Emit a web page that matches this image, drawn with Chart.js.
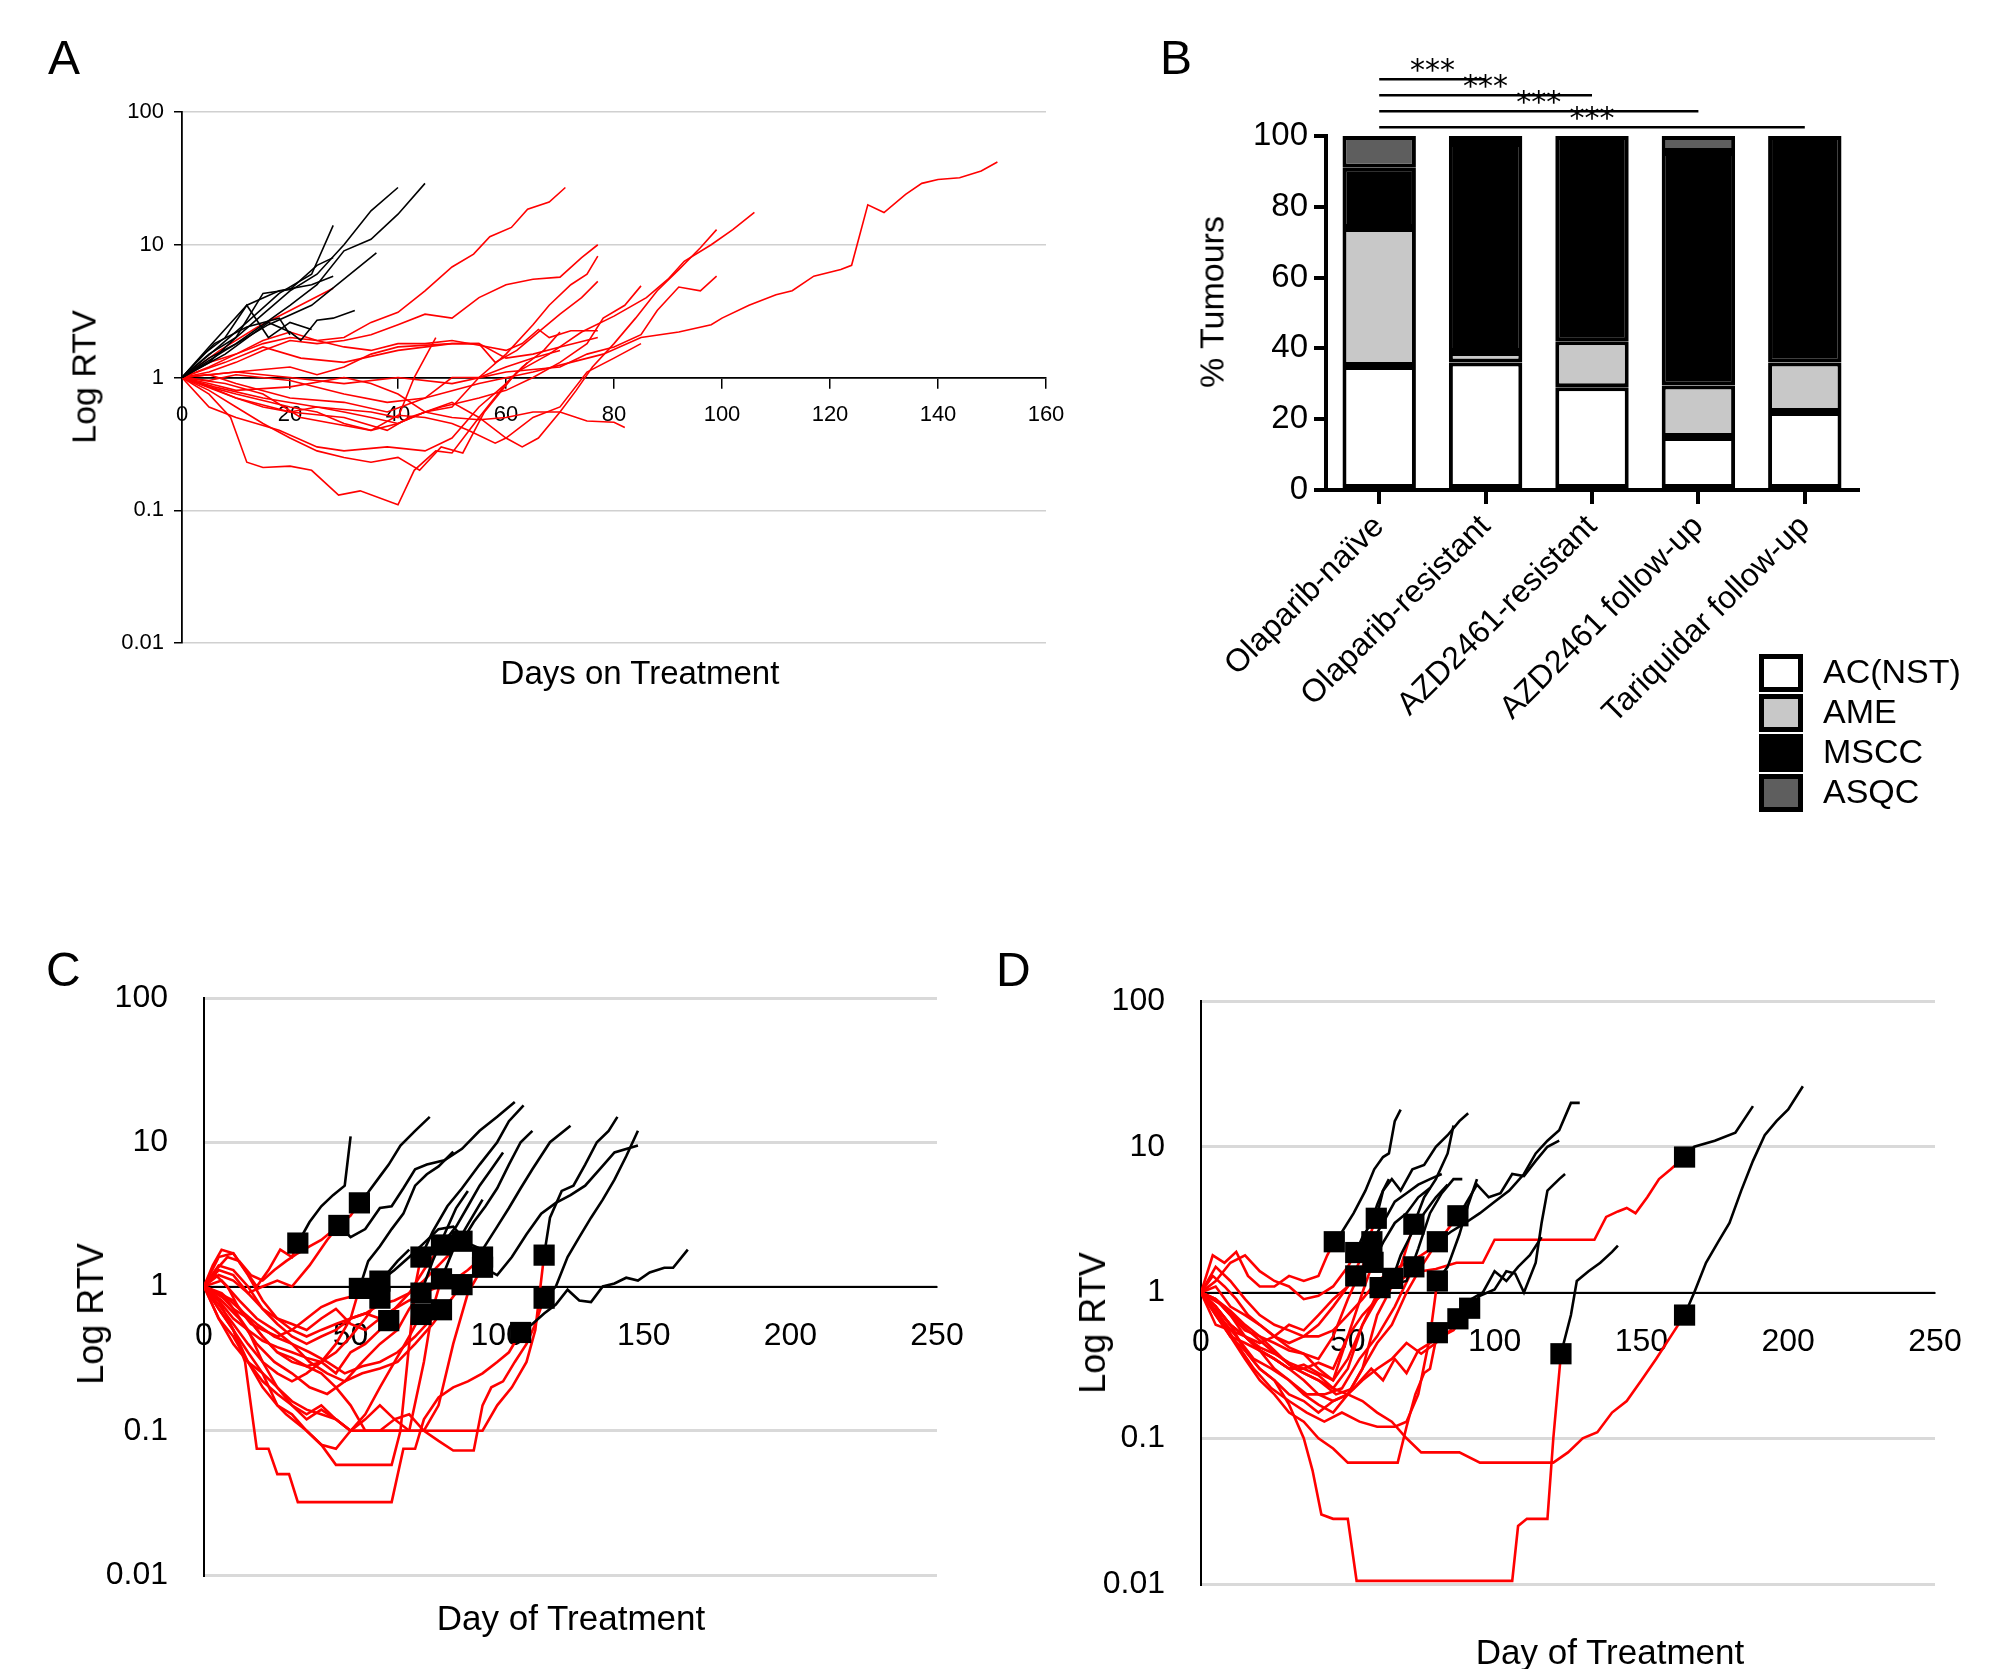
<!DOCTYPE html>
<html><head><meta charset="utf-8">
<script src="https://cdn.jsdelivr.net/npm/chart.js@4/dist/chart.umd.min.js"></script>
<style>
html,body{margin:0;padding:0;background:#fff;}
body{width:2000px;height:1669px;position:relative;overflow:hidden;font-family:'Liberation Sans',Arial,sans-serif;}
canvas{position:absolute;left:0;top:0;}
.t{position:absolute;white-space:nowrap;color:#000;}
.v{transform:translate(-50%,-50%) rotate(-90deg);}
.h{transform:translate(-50%,-50%);}
.lg{position:absolute;left:1759px;width:34px;height:28px;border:5px solid #000;}
</style></head><body>
<canvas id="cA" width="2000" height="1669"></canvas>
<canvas id="cB" width="2000" height="1669"></canvas>
<canvas id="cC" width="2000" height="1669"></canvas>
<canvas id="cD" width="2000" height="1669"></canvas>

<div class="t" style="left:48px;top:30px;font-size:48px;">A</div>
<div class="t" style="left:1160px;top:30px;font-size:48px;">B</div>
<div class="t" style="left:46px;top:942px;font-size:48px;">C</div>
<div class="t" style="left:996px;top:942px;font-size:48px;">D</div>
<div class="t v" style="left:84px;top:377px;font-size:34px;">Log RTV</div>
<div class="t h" style="left:640px;top:673px;font-size:33px;">Days on Treatment</div>
<div class="t v" style="left:1212px;top:302px;font-size:34px;">% Tumours</div>
<div class="t v" style="left:91px;top:1314px;font-size:36px;">Log RTV</div>
<div class="t h" style="left:571px;top:1618px;font-size:35px;">Day of Treatment</div>
<div class="t v" style="left:1093px;top:1323px;font-size:36px;">Log RTV</div>
<div class="t h" style="left:1610px;top:1652px;font-size:35px;">Day of Treatment</div>
<div id="legend"></div>

<script>
// ---------- Panel A data ----------
const A_xTicks = [0,20,40,60,80,100,120,140,160];
const A_black = [
 [[0,1],[5,1.5],[10,2],[15,3],[20,4.5],[25,6],[30,10],[35,18],[40,27]],
 [[0,1],[5,1.4],[10,1.8],[15,2.5],[20,3.5],[25,5],[30,9],[35,11],[40,17],[45,29]],
 [[0,1],[6,1.6],[12,2.6],[18,4.3],[24,6],[28,14]],
 [[0,1],[8,1.6],[16,2.5],[24,3.5],[30,5.5],[36,8.7]],
 [[0,1],[8,1.5],[16,2.6],[20,2.2],[22,1.9],[25,2.7],[28,2.8],[32,3.2]],
 [[0,1],[5,1.7],[12,3.5],[18,4.5],[24,5],[28,5.8]],
 [[0,1],[5,1.3],[10,2],[15,4.3],[20,4.6],[25,7],[28,8]],
 [[0,1],[4,1.5],[8,2],[12,3.5],[16,2],[20,2.6],[24,2.3]],
 [[0,1],[6,1.8],[12,2.4],[18,2.8],[20,2.1]]
];
const A_red = [
 [[0,1],[5,0.95],[10,1.05],[20,0.95],[30,0.75],[38,0.65],[45,0.7],[55,0.9],[65,1.1],[72,1.3],[78,1.5],[85,2],[92,2.2],[98,2.5],[100,2.8],[105,3.5],[110,4.2],[113,4.5],[117,5.8],[122,6.5],[124,7],[127,20],[130,17.5],[134,24],[137,29],[140,31],[144,32],[148,36],[151,42]],
 [[0,1],[5,1.2],[10,1.5],[15,1.8],[20,2],[25,1.9],[30,2],[35,2.6],[40,3.1],[45,4.5],[50,6.8],[54,8.5],[57,11.5],[61,13.5],[64,18.5],[68,21],[71,27]],
 [[0,1],[5,0.8],[10,0.6],[15,0.45],[20,0.35],[25,0.28],[30,0.25],[35,0.23],[40,0.25],[44,0.2],[48,0.3],[52,0.27],[56,0.55],[62,1.1],[68,1.5],[74,2.2],[80,2.9],[86,4],[90,5.5],[93,7.5],[98,10],[102,13],[106,17.5]],
 [[0,1],[5,0.85],[10,0.75],[20,0.6],[25,0.55],[30,0.45],[35,0.4],[40,0.45],[45,0.55],[50,0.65],[55,0.5],[60,0.35],[63,0.3],[66,0.35],[70,0.55],[73,0.8],[76,1.2],[80,1.8],[84,2.8],[88,4.5],[92,6.5],[96,9.5],[99,13]],
 [[0,1],[5,1.1],[10,1.3],[15,1.6],[20,1.9],[25,1.8],[30,1.9],[35,2.1],[40,2.5],[45,3],[50,2.8],[55,4],[60,5],[65,5.5],[70,5.7],[74,8],[77,10]],
 [[0,1],[5,0.9],[10,0.8],[20,0.85],[30,1.0],[35,0.9],[40,0.75],[45,0.55],[50,0.6],[55,1],[60,1.5],[65,2.5],[68,3.5],[72,5],[75,6],[77,8.2]],
 [[0,1],[10,1.1],[20,1.2],[25,1.05],[30,1.2],[35,1.5],[40,1.7],[50,1.8],[55,1.8],[58,1.3],[62,1.6],[66,2.2],[70,3],[74,4],[77,5.3]],
 [[0,1],[5,1.3],[10,1.5],[15,1.9],[20,2.2],[25,1.9],[30,1.7],[35,1.6],[40,1.8],[45,1.8],[50,1.9],[55,1.75],[60,1.6],[63,1.8],[66,2.3],[68,2.0],[72,2.25],[77,2.25]],
 [[0,1],[8,1.3],[15,1.7],[22,1.4],[30,1.3],[40,1.6],[50,1.8],[55,1.8],[60,1.4],[65,1.5],[70,1.7],[77,2]],
 [[0,1],[10,0.7],[20,0.55],[30,0.5],[38,0.4],[42,0.5],[48,0.6],[55,0.7],[60,0.8],[65,1.0],[70,1.3],[75,1.8],[78,2.8],[82,3.5],[85,4.9]],
 [[0,1],[10,1.1],[20,1.0],[30,0.9],[40,1.0],[50,0.9],[60,1.1],[70,1.2],[75,1.5],[80,1.7],[85,2.1],[88,3.2],[92,4.8],[96,4.5],[99,5.8]],
 [[0,1],[5,0.85],[10,0.7],[15,0.6],[20,0.55],[25,0.6],[30,0.55],[35,0.5],[40,0.45],[45,0.55],[50,0.5],[55,0.48],[60,0.5],[65,0.55],[70,0.55],[75,0.47],[80,0.46],[82,0.42]],
 [[0,1],[5,0.75],[9,0.5],[12,0.23],[15,0.21],[20,0.215],[24,0.2],[29,0.13],[33,0.14],[40,0.11],[43,0.2],[47,0.28],[50,0.27],[55,0.5],[60,0.9],[63,1.2],[67,1.6],[70,2.2]],
 [[0,1],[7,1.6],[14,2.4],[20,3.2],[28,4.7]],
 [[0,1],[8,0.9],[15,0.75],[22,0.5],[28,0.45],[35,0.4],[40,0.52],[45,0.5],[50,0.45],[53,0.4],[58,0.32],[60,0.35],[65,0.5],[70,0.6],[75,1.1],[80,1.4],[85,1.8]],
 [[0,1],[5,1.05],[10,0.9],[20,0.7],[30,0.65],[38,0.55],[45,0.7],[50,1.0],[55,1.0],[60,1.2],[65,1.4],[70,1.6]],
 [[0,1],[6,0.85],[15,0.7],[25,0.6],[35,0.55],[40,0.5],[43,1.0],[47,2.0]],
 [[0,1],[5,0.6],[10,0.5],[18,0.4],[25,0.3],[30,0.28],[38,0.3],[45,0.28],[50,0.35],[55,0.6],[60,0.9],[64,1.3]]
];

// ---------- Panel B data ----------
const B_categories = ['Olaparib-naïve','Olaparib-resistant','AZD2461-resistant','AZD2461 follow-up','Tariquidar follow-up'];
const B_AC   = [35, 36, 29, 15, 22];
const B_AME  = [39, 3, 13, 14.5, 14];
const B_MSCC = [17, 59, 58, 66, 64];
const B_ASQC = [9, 2, 0, 4.5, 0];
const B_yTicks = [0,20,40,60,80,100];
const B_sigPairs = [[0,1],[0,2],[0,3],[0,4]];
const B_sigText = ['***','***','***','***'];

// ---------- Panel C data ----------
const CD_xTicks = [0,50,100,150,200,250];
const C_red = [
 [[0,1],[3,1.4],[6,1.8],[10,1.7],[14,1.3],[18,1.0],[22,1.3],[26,1.8],[30,1.6],[32,2.0]],
 [[0,1],[4,1.3],[8,1.6],[12,1.5],[16,1.2],[20,1.1],[24,1.3],[28,1.5],[32,1.7],[36,1.9],[40,2.1],[46,2.65]],
 [[0,1],[5,1.2],[10,1.1],[15,0.9],[20,1.0],[25,1.1],[30,1.0],[36,1.4],[42,2.1],[46,2.65],[50,3.1],[53,3.8]],
 [[0,1],[5,0.8],[10,0.6],[15,0.5],[20,0.42],[25,0.38],[30,0.35],[35,0.32],[40,0.3],[45,0.4],[50,0.6],[53,0.97]],
 [[0,1],[4,1.2],[8,1.0],[12,0.7],[16,0.55],[20,0.5],[25,0.45],[30,0.5],[35,0.6],[40,0.72],[45,0.8],[50,0.85],[55,0.95],[60,1.09]],
 [[0,1],[5,0.9],[10,0.7],[15,0.6],[20,0.45],[25,0.35],[30,0.32],[35,0.28],[40,0.3],[45,0.35],[50,0.45],[55,0.6],[60,0.83]],
 [[0,1],[5,0.75],[10,0.55],[15,0.4],[20,0.3],[25,0.25],[30,0.22],[35,0.25],[40,0.3],[45,0.25],[50,0.35],[55,0.4],[60,0.5],[63,0.58]],
 [[0,1],[5,0.7],[10,0.5],[15,0.35],[20,0.25],[25,0.15],[28,0.13],[35,0.1],[40,0.08],[45,0.058],[64,0.058],[67,0.1],[70,0.4],[72,1.0],[74,1.6]],
 [[0,1],[6,1.1],[12,0.8],[18,0.6],[24,0.5],[30,0.4],[36,0.3],[42,0.25],[48,0.22],[54,0.3],[60,0.4],[66,0.5],[70,0.7],[74,0.9]],
 [[0,1],[5,0.6],[10,0.4],[15,0.3],[20,0.22],[25,0.18],[30,0.15],[35,0.12],[40,0.14],[45,0.12],[50,0.1],[55,0.13],[60,0.2],[65,0.3],[70,0.45],[74,0.64]],
 [[0,1],[5,1.3],[10,1.2],[15,0.9],[20,0.7],[25,0.6],[30,0.55],[35,0.5],[40,0.6],[45,0.7],[50,0.55],[55,0.5],[60,0.6],[65,0.7],[70,0.9],[75,1.3],[81,1.94]],
 [[0,1],[5,0.8],[10,0.5],[15,0.3],[20,0.25],[25,0.2],[30,0.15],[35,0.13],[40,0.15],[45,0.12],[50,0.1],[55,0.1],[60,0.1],[70,0.1],[75,0.3],[78,0.7],[81,1.13]],
 [[0,1],[6,0.9],[12,0.7],[18,0.55],[24,0.45],[30,0.4],[36,0.35],[42,0.3],[48,0.25],[54,0.28],[60,0.3],[66,0.35],[72,0.45],[76,0.55],[81,0.69]],
 [[0,1],[5,1.6],[10,1.7],[15,1.2],[20,0.8],[25,0.6],[30,0.5],[35,0.45],[40,0.5],[45,0.55],[50,0.6],[55,0.65],[60,0.75],[65,0.8],[70,0.9],[75,1.1],[80,1.4],[88,2.06]],
 [[0,1],[6,0.8],[12,0.6],[18,0.4],[24,0.3],[30,0.25],[36,0.2],[42,0.18],[48,0.22],[54,0.25],[60,0.27],[66,0.3],[72,0.4],[78,0.55],[83,0.75],[88,1.03]],
 [[0,1],[5,1.4],[10,1.3],[15,1.0],[20,0.7],[25,0.55],[30,0.45],[35,0.4],[40,0.45],[45,0.5],[50,0.6],[55,0.65],[60,0.6],[65,0.7],[70,0.8],[75,0.9],[80,1.0],[85,1.1],[90,1.3],[95,1.6]],
 [[0,1],[5,0.9],[10,0.8],[15,0.6],[20,0.45],[25,0.35],[30,0.3],[35,0.28],[40,0.25],[45,0.2],[50,0.15],[55,0.1],[60,0.1],[65,0.12],[70,0.1],[75,0.1],[80,0.15],[85,0.4],[90,0.9],[95,1.36]],
 [[0,1],[5,0.7],[10,0.5],[14,0.3],[16,0.15],[18,0.075],[22,0.075],[25,0.05],[29,0.05],[32,0.032],[64,0.032],[68,0.075],[72,0.075],[75,0.12],[80,0.17],[85,0.2],[90,0.22],[95,0.25],[100,0.3],[104,0.35],[108,0.48]],
 [[0,1],[5,0.6],[10,0.45],[15,0.3],[20,0.2],[25,0.15],[30,0.13],[35,0.1],[40,0.08],[45,0.075],[50,0.1],[55,0.1],[95,0.1],[100,0.15],[105,0.2],[110,0.3],[113,0.5],[116,1.65]],
 [[0,1],[8,0.8],[15,0.5],[20,0.3],[25,0.2],[30,0.16],[35,0.14],[40,0.13],[45,0.12],[50,0.1],[55,0.12],[60,0.15],[65,0.12],[70,0.13],[75,0.1],[80,0.085],[85,0.073],[92,0.073],[95,0.15],[98,0.2],[102,0.22],[106,0.3],[110,0.4],[113,0.55],[116,0.83]]
];
const C_black = [
 [[32,2.0],[36,2.8],[40,3.6],[44,4.3],[48,5],[50,11]],
 [[53,3.8],[56,4.5],[60,5.8],[63,7],[67,9.5],[72,12],[77,15]],
 [[46,2.65],[50,2.2],[55,2.5],[60,3.5],[64,3.6],[68,4.8],[72,6.5],[76,7],[82,7.5],[88,9],[94,12],[100,15],[106,19]],
 [[53,0.97],[56,1.5],[60,1.9],[64,2.5],[68,3.2],[72,5],[76,6],[80,6.8],[85,8.6]],
 [[60,1.09],[65,1.3],[70,1.6],[75,2.0],[80,2.5],[85,2.6],[90,2.0],[95,1.8],[100,2.6],[104,3.5],[108,4.8],[112,6.5],[118,10],[125,13]],
 [[74,1.6],[78,2.4],[83,3.6],[88,4.8],[94,7],[100,10],[104,14],[109,18]],
 [[81,1.94],[86,2.6],[90,3.6],[94,5],[98,6.5],[102,8.5]],
 [[88,2.06],[92,2.8],[96,3.6],[100,4.8],[104,7],[108,10],[112,12]],
 [[95,1.36],[100,1.2],[105,1.6],[110,2.3],[115,3.2],[120,3.8],[125,4.3],[130,5],[135,6.5],[140,8.5],[148,9.5]],
 [[116,1.65],[118,3],[122,4.6],[126,5],[130,7],[134,10],[138,12],[141,15]],
 [[116,0.83],[120,1.0],[124,1.6],[128,2.2],[132,3],[136,4],[140,5.5],[144,8],[148,12]],
 [[108,0.48],[112,0.55],[116,0.65],[120,0.75],[124,0.95],[128,0.8],[132,0.78],[136,1.0],[140,1.05],[144,1.15],[148,1.1],[152,1.25],[157,1.35],[160,1.35],[165,1.8]],
 [[74,0.9],[78,1.5],[82,2.3],[86,3.5],[90,4.6]],
 [[81,1.13],[85,1.8],[90,2.7],[95,4]],
 [[60,0.83],[62,1.2],[66,1.5],[70,1.8]]
];
const C_markers = [[32,2.0],[46,2.65],[53,3.8],[53,0.97],[60,1.09],[60,0.83],[63,0.58],[74,1.6],[74,0.9],[74,0.64],[81,1.94],[81,1.13],[81,0.69],[88,2.06],[88,1.03],[95,1.6],[95,1.36],[108,0.48],[116,1.65],[116,0.83]];

// ---------- Panel D data ----------
const D_red = [
 [[0,1],[4,1.8],[8,1.6],[12,1.9],[16,1.3],[20,1.1],[25,1.1],[30,1.3],[35,1.2],[40,1.3],[43,1.8],[45.4,2.23]],
 [[0,1],[5,1.2],[10,1.6],[15,1.8],[20,1.4],[25,1.2],[30,1.1],[35,0.9],[40,0.95],[45,1.1],[50,1.5],[52.7,1.88]],
 [[0,1],[5,0.8],[10,0.6],[15,0.5],[20,0.45],[25,0.5],[30,0.6],[35,0.55],[40,0.7],[45,0.9],[50,1.1],[52.7,1.3]],
 [[0,1],[5,1.1],[10,0.8],[15,0.7],[20,0.6],[25,0.5],[30,0.45],[35,0.5],[40,0.6],[45,0.8],[50,1.1],[55,1.8],[59.7,3.23]],
 [[0,1],[4,1.3],[8,1.1],[12,0.9],[16,0.7],[20,0.6],[25,0.5],[30,0.42],[35,0.38],[40,0.35],[45,0.5],[50,0.9],[55,1.5],[58.2,2.23]],
 [[0,1],[5,0.7],[10,0.5],[15,0.45],[20,0.4],[25,0.35],[30,0.3],[35,0.32],[40,0.28],[45,0.25],[50,0.5],[55,1.0],[58.6,1.61]],
 [[0,1],[5,0.6],[10,0.55],[15,0.5],[20,0.42],[25,0.38],[30,0.33],[35,0.3],[40,0.27],[45,0.22],[50,0.3],[55,0.6],[61,1.08]],
 [[0,1],[5,0.9],[10,0.7],[15,0.55],[20,0.5],[25,0.45],[30,0.4],[35,0.38],[40,0.3],[45,0.25],[50,0.35],[55,0.6],[60,0.9],[65.3,1.25]],
 [[0,1],[5,0.9],[10,0.7],[15,0.5],[20,0.4],[25,0.35],[30,0.3],[35,0.25],[40,0.2],[45,0.18],[50,0.2],[55,0.3],[60,0.7],[64,1.0],[68,1.5],[72.5,2.94]],
 [[0,1],[6,0.7],[12,0.5],[18,0.35],[24,0.3],[30,0.25],[36,0.2],[42,0.2],[48,0.22],[54,0.35],[60,0.5],[66,0.8],[72.5,1.5]],
 [[0,1],[5,0.8],[10,0.6],[15,0.4],[20,0.3],[25,0.25],[30,0.2],[35,0.18],[40,0.15],[45,0.18],[50,0.2],[55,0.3],[60,0.45],[65,0.6],[70,1.0],[75,1.5],[80.5,2.23]],
 [[0,1],[6,0.7],[12,0.45],[18,0.3],[24,0.22],[30,0.18],[36,0.15],[42,0.13],[48,0.15],[54,0.13],[60,0.12],[66,0.12],[70,0.13],[74,0.2],[78,0.5],[80.5,1.2]],
 [[0,1],[5,0.8],[10,0.5],[15,0.35],[20,0.25],[25,0.2],[30,0.15],[35,0.13],[40,0.1],[45,0.085],[50,0.068],[67,0.068],[70,0.12],[73,0.2],[76,0.28],[78,0.3],[80.5,0.53]],
 [[0,1],[5,0.9],[10,0.75],[15,0.6],[20,0.5],[25,0.4],[30,0.32],[35,0.28],[40,0.25],[45,0.22],[50,0.2],[55,0.25],[60,0.3],[65,0.35],[70,0.45],[75,0.38],[80,0.45],[85,0.55],[87.5,0.66]],
 [[0,1],[8,0.8],[16,0.55],[24,0.4],[32,0.3],[40,0.25],[46,0.2],[52,0.22],[58,0.3],[62,0.25],[66,0.35],[70,0.28],[74,0.4],[78,0.45],[82,0.5],[86,0.55],[91.5,0.78]],
 [[0,1],[5,1.5],[10,1.2],[15,0.9],[20,0.7],[25,0.6],[30,0.55],[35,0.5],[40,0.5],[45,0.55],[50,0.7],[55,0.9],[60,1.2],[65,1.4],[70,1.6],[75,1.8],[80,2.1],[87.5,3.36]],
 [[0,1],[5,0.7],[10,0.5],[15,0.4],[20,0.3],[25,0.25],[30,0.17],[35,0.1],[38,0.06],[41,0.03],[45,0.028],[50,0.028],[53,0.0105],[106,0.0105],[108,0.025],[111,0.028],[118,0.028],[120,0.1],[122.6,0.38]],
 [[0,1],[5,0.8],[10,0.6],[15,0.5],[20,0.4],[25,0.35],[30,0.3],[35,0.3],[40,0.33],[45,0.3],[50,0.5],[55,0.7],[60,0.9],[65,1.1],[70,1.3],[75,1.4],[80,1.45],[87,1.6],[96,1.6],[100,2.3],[134,2.3],[138,3.3],[142,3.6],[145,3.8],[148,3.5],[152,4.5],[156,6],[160,7],[164.7,8.5]],
 [[0,1],[5,0.8],[10,0.6],[15,0.5],[20,0.4],[25,0.3],[30,0.25],[35,0.2],[40,0.17],[45,0.15],[50,0.2],[55,0.18],[60,0.15],[65,0.13],[70,0.1],[75,0.08],[80,0.08],[88,0.08],[95,0.068],[120,0.068],[125,0.08],[130,0.1],[135,0.11],[140,0.15],[145,0.18],[150,0.25],[155,0.35],[160,0.5],[164.7,0.70]]
];
const D_black = [
 [[45.4,2.23],[48,2.6],[52,3.5],[56,5],[59,7],[62,8.5],[64,9],[66,15],[68,18]],
 [[59.7,3.23],[62,5],[65,6],[68,5],[72,7],[76,7.5],[80,10],[84,12],[88,15],[91,17]],
 [[58.2,2.23],[62,3],[66,4.2],[70,4.8],[74,5.5],[78,6],[82,6.5]],
 [[72.5,2.94],[76,4.5],[80,6],[84,9],[86,14]],
 [[80.5,2.23],[85,2.6],[90,3],[95,3.5],[100,4.2],[105,5],[110,6.5],[114,9],[118,11],[122,13],[126,20],[129,20]],
 [[87.5,3.36],[90,4],[94,5.5],[98,4.5],[102,4.8],[106,6.5],[110,6.3],[114,8],[118,10],[122,11]],
 [[91.5,0.78],[95,0.95],[100,1.05],[104,1.4],[107,1.35],[110,1.0],[114,1.6],[116,3],[118,5],[122,6],[124,6.5]],
 [[87.5,0.66],[92,0.9],[96,1.0],[100,1.4],[104,1.2],[108,1.5],[112,1.8],[116,2.4]],
 [[61,1.08],[66,1.15],[70,1.2],[74,2],[78,3.5],[82,4.8],[86,6],[89,6]],
 [[65.3,1.25],[68,1.8],[72,2.6],[76,3.5],[80,4.5],[84,5.5]],
 [[80.5,1.2],[84,1.5],[88,2.5],[91,4],[94,6]],
 [[52.7,1.88],[55,2.4],[58,3],[60,4],[62,5],[64,6]],
 [[122.6,0.38],[126,0.7],[128,1.2],[132,1.4],[136,1.6],[140,1.9],[142,2.1]],
 [[164.7,8.5],[168,10],[175,11],[182,12.5],[188,19]],
 [[164.7,0.70],[168,1.0],[172,1.6],[176,2.2],[180,3],[184,5],[188,8],[192,12],[196,15],[200,18],[205,26]],
 [[58.6,1.61],[62,2.2],[66,3],[70,3.5],[74,4.5],[78,5.2]]
];
const D_markers = [[45.4,2.23],[52.7,1.88],[52.7,1.3],[59.7,3.23],[58.2,2.23],[58.6,1.61],[61,1.08],[65.3,1.25],[72.5,2.94],[72.5,1.5],[80.5,2.23],[80.5,1.2],[80.5,0.53],[87.5,0.66],[91.5,0.78],[87.5,3.36],[122.6,0.38],[164.7,8.5],[164.7,0.70]];
const LOG_TICKS = [0.01,0.1,1,10,100];

Chart.defaults.font.family = "'Liberation Sans', Arial, sans-serif";
Chart.defaults.color = '#000';
Chart.defaults.animation = false;

const toPts = a => a.map(p => ({x:p[0], y:p[1]}));

function logChart(id, o){
  const ds = [];
  if (o.markers) ds.push({type:'scatter', data:toPts(o.markers), pointStyle:'rect', pointRadius:o.mr, backgroundColor:'#000', borderColor:'#000', borderWidth:0, order:0});
  o.black.forEach(l => ds.push({data:toPts(l), borderColor:'#000', borderWidth:o.lw, pointRadius:0, fill:false, tension:0, order:1}));
  o.red.forEach(l => ds.push({data:toPts(l), borderColor:'#ff0000', borderWidth:o.lw, pointRadius:0, fill:false, tension:0, order:2}));
  new Chart(document.getElementById(id), {
    type:'line',
    data:{datasets:ds},
    options:{
      responsive:false, devicePixelRatio:1,
      layout:{padding:{left:o.L - o.yw, top:o.T, right:2000 - o.R, bottom:1669 - o.B}},
      plugins:{legend:{display:false}, tooltip:{enabled:false}},
      scales:{
        x:{type:'linear', min:0, max:o.xTicks[o.xTicks.length-1], position:{y:1},
           afterBuildTicks:s => { s.ticks = o.xTicks.map(v => ({value:v})); },
           ticks:{font:{size:o.xfs}, padding:o.xpad, maxRotation:0, autoSkip:false},
           grid:{drawOnChartArea:false, display:o.xtickLen>0, tickLength:o.xtickLen, color:'#000', lineWidth:1.5},
           border:{color:'#000', width:o.bw}},
        y:{type:'logarithmic', min:0.01, max:100,
           afterBuildTicks:s => { s.ticks = LOG_TICKS.map(v => ({value:v})); },
           afterFit:s => { s.width = o.yw; },
           ticks:{font:{size:o.yfs}, padding:o.ypad, callback:v => String(v)},
           grid:{color:o.gc, lineWidth:o.gw, tickLength:o.ytickLen, tickColor:'#000'},
           border:{color:'#000', width:o.bw}}
      }
    }
  });
}

logChart('cA', {red:A_red, black:A_black, xTicks:A_xTicks, lw:1.6, L:182, R:1046, T:112, B:643, yw:100,
  xfs:22, yfs:22, xpad:14, ypad:10, xtickLen:10, ytickLen:8, gc:'#d0d0d0', gw:1.5, bw:1.8});
logChart('cC', {red:C_red, black:C_black, markers:C_markers, mr:15, xTicks:CD_xTicks, lw:2.6, L:204, R:937, T:998, B:1575, yw:150,
  xfs:32, yfs:32, xpad:30, ypad:36, xtickLen:0, ytickLen:0, gc:'#d9d9d9', gw:3, bw:2});
logChart('cD', {red:D_red, black:D_black, markers:D_markers, mr:15, xTicks:CD_xTicks, lw:2.6, L:1201, R:1935, T:1001, B:1584, yw:150,
  xfs:32, yfs:32, xpad:30, ypad:36, xtickLen:0, ytickLen:0, gc:'#d9d9d9', gw:3, bw:2});

// ---------- Panel B ----------
const sigPlugin = {
  id:'sig',
  afterDraw(chart){
    const ctx = chart.ctx, xs = chart.scales.x, ys = chart.scales.y;
    ctx.save();
    ctx.strokeStyle = '#000'; ctx.lineWidth = 2.5; ctx.fillStyle = '#000';
    ctx.font = "30px 'DejaVu Sans', Arial"; ctx.textAlign = 'center'; ctx.textBaseline = 'bottom';
    B_sigPairs.forEach((p, i) => {
      const y = ys.getPixelForValue(116 - i*4.5);
      const x1 = xs.getPixelForValue(p[0]), x2 = xs.getPixelForValue(p[1]);
      ctx.beginPath(); ctx.moveTo(x1, y); ctx.lineTo(x2, y); ctx.stroke();
      ctx.fillText(B_sigText[i], (x1 + x2) / 2, y + 8);
    });
    ctx.restore();
  }
};
const barDs = (label, data, color) => ({label, data, backgroundColor:color, borderColor:'#000', borderWidth:4, borderSkipped:false, categoryPercentage:1, barPercentage:0.69});
new Chart(document.getElementById('cB'), {
  type:'bar',
  data:{labels:B_categories, datasets:[
    barDs('AC(NST)', B_AC, '#ffffff'),
    barDs('AME', B_AME, '#c8c8c8'),
    barDs('MSCC', B_MSCC, '#000000'),
    barDs('ASQC', B_ASQC, '#5e5e5e')
  ]},
  options:{
    responsive:false, devicePixelRatio:1,
    layout:{padding:{left:1326 - 120, top:136, right:2000 - 1858, bottom:0}},
    plugins:{legend:{display:false}, tooltip:{enabled:false}},
    scales:{
      x:{stacked:true, afterFit:s => { s.height = 1669 - 490; },
         ticks:{font:{size:32}, minRotation:45, maxRotation:45, padding:4},
         grid:{drawOnChartArea:false, offset:false, tickLength:14, lineWidth:4, color:'#000'},
         border:{color:'#000', width:4}},
      y:{stacked:true, min:0, max:100,
         afterBuildTicks:s => { s.ticks = B_yTicks.map(v => ({value:v})); },
         afterFit:s => { s.width = 120; },
         ticks:{font:{size:33}, padding:6},
         grid:{drawOnChartArea:false, tickLength:12, lineWidth:4, color:'#000'},
         border:{color:'#000', width:4}}
    }
  },
  plugins:[sigPlugin]
});

// legend (HTML, built from the series names/colours)
const legendItems = [['AC(NST)','#ffffff'],['AME','#c8c8c8'],['MSCC','#000000'],['ASQC','#5e5e5e']];
const lg = document.getElementById('legend');
legendItems.forEach((it, i) => {
  const top = 654 + i*40;
  lg.insertAdjacentHTML('beforeend', `<div class="lg" style="top:${top}px;background:${it[1]}"></div><div class="t" style="left:1823px;top:${top-2}px;font-size:34px;">${it[0]}</div>`);
});
</script>
</body></html>
